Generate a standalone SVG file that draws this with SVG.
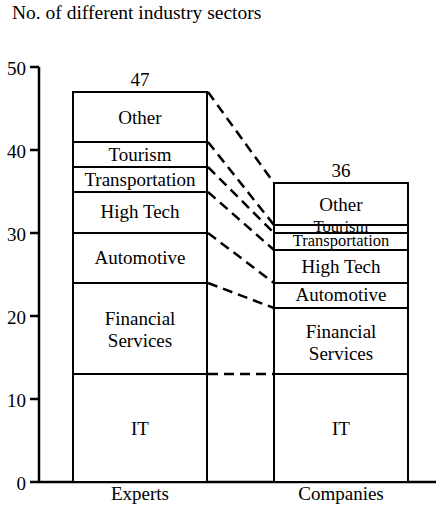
<svg xmlns="http://www.w3.org/2000/svg" width="436" height="510" viewBox="0 0 436 510">
<style>
text{font-family:"Liberation Serif","Times New Roman",serif;font-size:19px;fill:#000;text-anchor:middle}
.tick{text-anchor:end}
.title{text-anchor:start;font-size:19.5px}
.sm{font-size:16.5px}
.seg{fill:#fff;stroke:#000;stroke-width:2}
.axis{stroke:#000;stroke-width:2.5;fill:none}
.dash{stroke:#000;stroke-width:2.5;stroke-dasharray:10 6;fill:none}
</style>
<rect width="436" height="510" fill="#fff"/>
<text class="title" x="12" y="19">No. of different industry sectors</text>
<g id="axis">
<path class="axis" d="M39,67V482M30,67H39M30,150H39M30,233H39M30,316H39M30,399H39M30,482H436"/>
<text class="tick" x="26" y="75">50</text>
<text class="tick" x="26" y="158">40</text>
<text class="tick" x="26" y="241">30</text>
<text class="tick" x="26" y="324">20</text>
<text class="tick" x="26" y="407">10</text>
<text class="tick" x="26" y="490">0</text>
</g>
<g id="connectors">
<path class="dash" d="M208,92L274,183M208,142L274,225M208,167L274,233M208,192L274,250M208,233L274,283M208,283L274,308M208,374L274,374"/>
</g>
<g id="experts">
<rect class="seg" x="73" y="92" width="134" height="50"/>
<rect class="seg" x="73" y="142" width="134" height="25"/>
<rect class="seg" x="73" y="167" width="134" height="25"/>
<rect class="seg" x="73" y="192" width="134" height="41"/>
<rect class="seg" x="73" y="233" width="134" height="50"/>
<rect class="seg" x="73" y="283" width="134" height="91"/>
<rect class="seg" x="73" y="374" width="134" height="108"/>
<text x="140" y="86">47</text>
<text x="140" y="124">Other</text>
<text x="140" y="161">Tourism</text>
<text x="140" y="186">Transportation</text>
<text x="140" y="218">High Tech</text>
<text x="140" y="264">Automotive</text>
<text x="140" y="325">Financial</text>
<text x="140" y="347">Services</text>
<text x="140" y="435">IT</text>
<text x="140" y="500">Experts</text>
</g>
<g id="companies">
<rect class="seg" x="274" y="183" width="134" height="42"/>
<text class="sm" x="341" y="232">Tourism</text>
<path d="M274,225H408V233H274Z" fill="none" stroke="#000" stroke-width="2"/>
<rect class="seg" x="274" y="233" width="134" height="17"/>
<rect class="seg" x="274" y="250" width="134" height="33"/>
<rect class="seg" x="274" y="283" width="134" height="25"/>
<rect class="seg" x="274" y="308" width="134" height="66"/>
<rect class="seg" x="274" y="374" width="134" height="108"/>
<text x="341" y="177">36</text>
<text x="341" y="211">Other</text>
<text class="sm" x="341" y="246">Transportation</text>
<text x="341" y="273">High Tech</text>
<text x="341" y="301">Automotive</text>
<text x="341" y="338">Financial</text>
<text x="341" y="360">Services</text>
<text x="341" y="435">IT</text>
<text x="341" y="500">Companies</text>
</g>
</svg>
